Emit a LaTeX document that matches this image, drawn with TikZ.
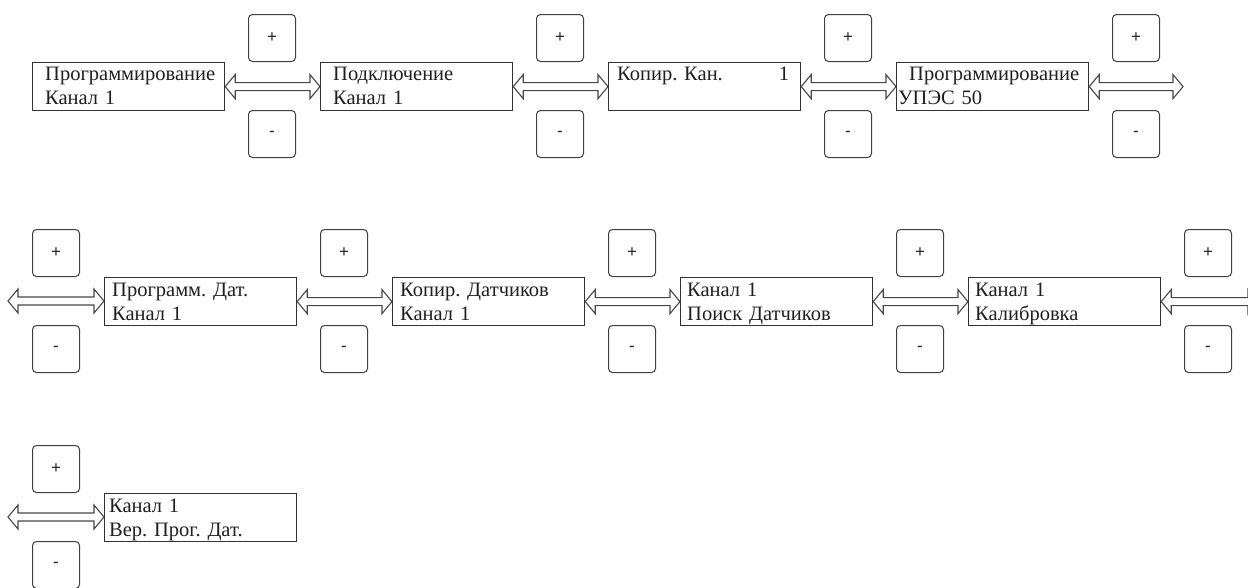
\documentclass[tikz,border=0pt]{standalone}
\usepackage{fontspec}
\setmainfont{Liberation Serif}
\newfontfamily\signfont{Liberation Sans}
\usetikzlibrary{calc}
\frenchspacing

\tikzset{
  blk/.style={draw=black!80, line width=1.2pt, minimum width=192pt, minimum height=48pt,
              inner sep=0pt, anchor=north west},
  lbl/.style={anchor=base west, inner sep=0pt, text width=185pt, align=left,
              font=\fontsize{20.5}{24}\selectfont, text=black!88},
  key/.style={draw=black!75, line width=1pt, rounded corners=4pt, minimum size=47pt,
              inner sep=0pt, font=\signfont\fontsize{17}{17}\selectfont, text=black!85},
  arr/.style={draw=black!72, line width=1.1pt, fill=white},
}

% hollow two-headed block arrow between two points on the same level
\newcommand\hollow[2]{%
  \path[arr] let \p1=(#1), \p2=(#2) in
    (\x1,\y1) -- (\x1+10pt,\y1+12pt) -- (\x1+10pt,\y1+4pt) -- (\x2-10pt,\y1+4pt)
    -- (\x2-10pt,\y1+12pt) -- (\x2,\y1) -- (\x2-10pt,\y1-12pt) -- (\x2-10pt,\y1-4pt)
    -- (\x1+10pt,\y1-4pt) -- (\x1+10pt,\y1-12pt) -- cycle;}

\begin{document}
\begin{tikzpicture}[x=1pt,y=-1pt]
\clip (0,0) rectangle (1248,587);
\fill[white] (0,0) rectangle (1248,587);

% ---- first row
\node[blk] (b1) at (32,62) {};
\node[blk] (b2) at (320,62) {};
\node[blk] (b3) at (608,62) {};
\node[blk] (b4) at (896,62) {};
\coordinate (e1) at (1183,86);

\node[lbl] (t1) at ($(b1.north west)+(13,18)$) {Программирование\\Канал 1};
\node[lbl] (t2) at ($(b2.north west)+(13,18)$) {Подключение\\Канал 1};
\node[lbl] (t3) at ($(b3.north west)+(9,18)$) {\makebox[172pt][l]{Копир. Кан.\hfill 1}};
\node[lbl] (t4) at ($(b4.north west)+(2,18)$) {\hspace*{11pt}Программирование\\УПЭС 50};

\hollow{b1.east}{b2.west}
\hollow{b2.east}{b3.west}
\hollow{b3.east}{b4.west}
\hollow{b4.east}{e1}

\foreach \n/\x in {1/272,2/560,3/848,4/1136}{
  \node[key, anchor=south] (p1\n) at (\x,62) {+};
  \node[key, anchor=north] (m1\n) at (\x,110) {-};
}

% ---- second row
\coordinate (s2) at (8,301);
\node[blk] (b5) at (104,277) {};
\node[blk] (b6) at (392,277) {};
\node[blk] (b7) at (680,277) {};
\node[blk] (b8) at (968,277) {};
\coordinate (e2) at (1258,301);

\node[lbl] (t5) at ($(b5.north west)+(8,19)$) {Программ. Дат.\\Канал 1};
\node[lbl] (t6) at ($(b6.north west)+(8,19)$) {Копир. Датчиков\\Канал 1};
\node[lbl] (t7) at ($(b7.north west)+(7,19)$) {Канал 1\\Поиск Датчиков};
\node[lbl] (t8) at ($(b8.north west)+(7,19)$) {Канал 1\\Калибровка};

\hollow{s2}{b5.west}
\hollow{b5.east}{b6.west}
\hollow{b6.east}{b7.west}
\hollow{b7.east}{b8.west}
\hollow{b8.east}{e2}

\foreach \n/\x in {1/56,2/344,3/632,4/920,5/1208}{
  \node[key, anchor=south] (p2\n) at (\x,277) {+};
  \node[key, anchor=north] (m2\n) at (\x,325) {-};
}

% ---- third row
\coordinate (s3) at (8,517);
\node[blk] (b9) at (104,493) {};
\node[lbl] (t9) at ($(b9.north west)+(5,19)$) {Канал 1\\Вер. Прог. Дат.};
\hollow{s3}{b9.west}
\node[key, anchor=south] (p31) at (56,493) {+};
\node[key, anchor=north] (m31) at (56,541) {-};
\end{tikzpicture}
\end{document}
